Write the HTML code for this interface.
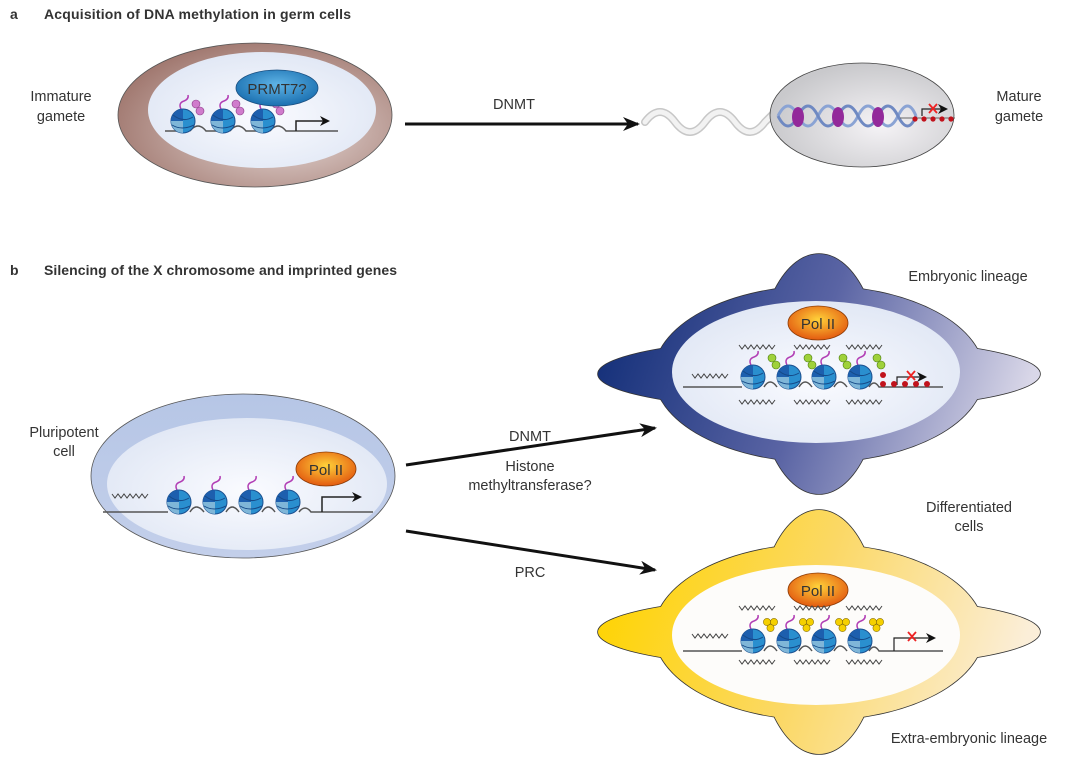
<!DOCTYPE html>
<html><head><meta charset="utf-8"><style>
html,body{margin:0;padding:0;background:#fff}
svg{display:block}
text{font-family:"Liberation Sans",sans-serif;fill:#333}
</style></head><body>
<svg width="1080" height="762" viewBox="0 0 1080 762" xmlns="http://www.w3.org/2000/svg">
<defs>
<radialGradient id="brown" cx="0.6" cy="0.6" r="0.7">
<stop offset="0" stop-color="#e8dcd9"/><stop offset="1" stop-color="#9a6f66"/></radialGradient>
<radialGradient id="grey" cx="0.6" cy="0.6" r="0.6">
<stop offset="0" stop-color="#f5f3f6"/><stop offset="1" stop-color="#c9c9cc"/></radialGradient>
<radialGradient id="inner" cx="0.5" cy="0.55" r="0.6">
<stop offset="0" stop-color="#fafbff"/><stop offset="1" stop-color="#dfe6f4"/></radialGradient>
<linearGradient id="pluri" x1="0" y1="0" x2="0" y2="1">
<stop offset="0" stop-color="#b6c6e6"/><stop offset="1" stop-color="#c3cfea"/></linearGradient>
<linearGradient id="navy" gradientUnits="userSpaceOnUse" x1="598" y1="330" x2="1000" y2="470">
<stop offset="0" stop-color="#122e78"/><stop offset="0.5" stop-color="#5a64a4"/><stop offset="1" stop-color="#d9d7e8"/></linearGradient>
<linearGradient id="yel" gradientUnits="userSpaceOnUse" x1="598" y1="590" x2="1000" y2="720">
<stop offset="0" stop-color="#ffd400"/><stop offset="0.5" stop-color="#fbd865"/><stop offset="1" stop-color="#fbeed8"/></linearGradient>
<radialGradient id="pol" cx="0.5" cy="0.4" r="0.6">
<stop offset="0" stop-color="#ffd23a"/><stop offset="1" stop-color="#e35a10"/></radialGradient>
<radialGradient id="prmt" cx="0.5" cy="0.4" r="0.6">
<stop offset="0" stop-color="#5fb4e6"/><stop offset="1" stop-color="#1a6fb0"/></radialGradient>
<g id="nuc">
<path d="M-2,-12 q-3,-6 3,-8 q5,-2 4,-6" stroke="#b23fb5" stroke-width="1.5" fill="none"/>
<circle r="12" fill="#2a8fcf" stroke="#1b4f8f" stroke-width="1"/>
<path d="M-12,0 A12,12 0 0 1 0,-12 L0,0Z" fill="#1d5fae"/>
<path d="M-12,0 A12,12 0 0 0 0,12 L0,0Z" fill="#7fb6d8"/>
<path d="M-10,-6 q10,8 20,2 M-11,4 q10,6 22,0" stroke="#164a88" stroke-width="1" fill="none"/>
</g>
<g id="sq"><path d="M0,0 l3,4 l3,-4 l3,4 l3,-4 l3,4 l3,-4 l3,4 l3,-4 l3,4 l3,-4 l3,4 l3,-4" stroke="#444" stroke-width="1" fill="none"/></g>
<marker id="ah" markerWidth="10" markerHeight="10" refX="8" refY="5" orient="auto" markerUnits="userSpaceOnUse"><path d="M0,0 L10,5 L0,10 L3,5Z" fill="#111"/></marker>
<marker id="big" markerWidth="18" markerHeight="14" refX="15" refY="7" orient="auto" markerUnits="userSpaceOnUse"><path d="M0,0 L17,7 L0,14 L5,7Z" fill="#111"/></marker>
</defs>

<text x="10" y="19" font-weight="bold" font-size="14" fill="#222">a</text>
<text x="44" y="19" font-weight="bold" font-size="14" textLength="307" fill="#222">Acquisition of DNA methylation in germ cells</text>
<text x="10" y="275" font-weight="bold" font-size="14" fill="#222">b</text>
<text x="44" y="275" font-weight="bold" font-size="14" textLength="353" fill="#222">Silencing of the X chromosome and imprinted genes</text>

<text x="61" y="101" font-size="14.5" text-anchor="middle">Immature</text>
<text x="61" y="121" font-size="14.5" text-anchor="middle">gamete</text>
<ellipse cx="255" cy="115" rx="137" ry="72" fill="url(#brown)" stroke="#555" stroke-width="0.8"/>
<ellipse cx="262" cy="110" rx="114" ry="58" fill="url(#inner)"/>
<path d="M165,131 H178 M190,131 q8,-10 16,0 H218 M230,131 q8,-10 16,0 H258 M270,131 q8,-10 16,0 H338" stroke="#555" stroke-width="1.5" fill="none"/>
<use href="#nuc" x="183" y="121"/><use href="#nuc" x="223" y="121"/><use href="#nuc" x="263" y="121"/>
<g fill="#d07ccc" stroke="#8a3d88" stroke-width="0.6">
<circle cx="196" cy="104" r="4"/><circle cx="200" cy="111" r="4"/>
<circle cx="236" cy="104" r="4"/><circle cx="240" cy="111" r="4"/>
<circle cx="276" cy="104" r="4"/><circle cx="280" cy="111" r="4"/></g>
<ellipse cx="277" cy="88" rx="41" ry="18" fill="url(#prmt)" stroke="#1a4f80" stroke-width="0.8"/>
<text x="277" y="94" font-size="15" text-anchor="middle" fill="#dff0fb">PRMT7?</text>
<path d="M296,131 V121 H328" stroke="#222" stroke-width="1.5" fill="none" marker-end="url(#ah)"/>

<line x1="405" y1="124" x2="638" y2="124" stroke="#111" stroke-width="3" marker-end="url(#big)"/>
<text x="514" y="109" font-size="14.5" text-anchor="middle">DNMT</text>

<path d="M645,122 q15,-20 30,0 t30,0 t30,0 t30,0 l8,-8" stroke="#999" stroke-width="8" fill="none" stroke-linecap="round" opacity="0.55"/>
<path d="M645,122 q15,-20 30,0 t30,0 t30,0 t30,0 l8,-8" stroke="#f2f2f2" stroke-width="5" fill="none" stroke-linecap="round"/>
<ellipse cx="862" cy="115" rx="92" ry="52" fill="url(#grey)" stroke="#444" stroke-width="0.8"/>
<path d="M778,116 q10,-20 20,0 t20,0 t20,0 t20,0 t20,0 t20,0 t18,0" stroke="#8aa3d4" stroke-width="3" fill="none"/>
<path d="M778,116 q10,20 20,0 t20,0 t20,0 t20,0 t20,0 t20,0 t18,0" stroke="#6f89c2" stroke-width="3" fill="none"/>
<g fill="#93299a"><ellipse cx="798" cy="117" rx="6" ry="10"/><ellipse cx="838" cy="117" rx="6" ry="10"/><ellipse cx="878" cy="117" rx="6" ry="10"/></g>
<path d="M900,118 H955" stroke="#666" stroke-width="1"/>
<path d="M922,116 V109 H946" stroke="#222" stroke-width="1.2" fill="none" marker-end="url(#ah)"/>
<path d="M929,104 l8,9 M937,104 l-8,9" stroke="#e22" stroke-width="1.8"/>
<g fill="#c1121c"><circle cx="915" cy="119" r="2.6"/><circle cx="924" cy="119" r="2.6"/><circle cx="933" cy="119" r="2.6"/><circle cx="942" cy="119" r="2.6"/><circle cx="951" cy="119" r="2.6"/></g>
<text x="1019" y="101" font-size="14.5" text-anchor="middle">Mature</text>
<text x="1019" y="121" font-size="14.5" text-anchor="middle">gamete</text>

<text x="64" y="437" font-size="14.5" text-anchor="middle">Pluripotent</text>
<text x="64" y="456" font-size="14.5" text-anchor="middle">cell</text>
<ellipse cx="243" cy="476" rx="152" ry="82" fill="url(#pluri)" stroke="#555" stroke-width="0.8"/>
<ellipse cx="247" cy="484" rx="140" ry="66" fill="url(#inner)"/>
<use href="#sq" x="112" y="494"/>
<path d="M103,512 H168 M190,512 q6,-10 14,0 M226,512 q6,-10 13,0 M262,512 q6,-10 13,0 M299,512 q6,-8 12,0 H373" stroke="#555" stroke-width="1.5" fill="none"/>
<use href="#nuc" x="179" y="502"/><use href="#nuc" x="215" y="502"/><use href="#nuc" x="251" y="502"/><use href="#nuc" x="288" y="502"/>
<ellipse cx="326" cy="469" rx="30" ry="17" fill="url(#pol)" stroke="#8a3a05" stroke-width="0.8"/>
<text x="326" y="475" font-size="15" text-anchor="middle" fill="#5a3a10">Pol II</text>
<path d="M322,512 V497 H360" stroke="#222" stroke-width="1.5" fill="none" marker-end="url(#ah)"/>

<line x1="406" y1="465" x2="655" y2="428" stroke="#111" stroke-width="3" marker-end="url(#big)"/>
<line x1="406" y1="531" x2="655" y2="570" stroke="#111" stroke-width="3" marker-end="url(#big)"/>
<text x="530" y="441" font-size="14.5" text-anchor="middle">DNMT</text>
<text x="530" y="471" font-size="14.5" text-anchor="middle">Histone</text>
<text x="530" y="490" font-size="14.5" text-anchor="middle">methyltransferase?</text>
<text x="530" y="577" font-size="14.5" text-anchor="middle">PRC</text>

<g stroke="#333" stroke-width="1.6" fill="none">
<ellipse cx="819" cy="374" rx="221" ry="36"/><ellipse cx="819" cy="374" rx="62" ry="120"/><ellipse cx="819" cy="374" rx="165" ry="88"/>
</g>
<g fill="url(#navy)">
<ellipse cx="819" cy="374" rx="221" ry="36"/><ellipse cx="819" cy="374" rx="62" ry="120"/><ellipse cx="819" cy="374" rx="165" ry="88"/>
</g>
<ellipse cx="816" cy="372" rx="144" ry="71" fill="url(#inner)"/>
<ellipse cx="818" cy="323" rx="30" ry="17" fill="url(#pol)" stroke="#8a3a05" stroke-width="0.8"/>
<text x="818" y="329" font-size="15" text-anchor="middle" fill="#5a3a10">Pol II</text>
<use href="#sq" x="739" y="345"/><use href="#sq" x="794" y="345"/><use href="#sq" x="846" y="345"/>
<use href="#sq" x="739" y="400"/><use href="#sq" x="794" y="400"/><use href="#sq" x="846" y="400"/>
<use href="#sq" x="692" y="374"/>
<path d="M683,387 H742 M764,387 q6,-10 13,0 M799,387 q6,-10 13,0 M834,387 q6,-10 13,0 M869,387 q5,-8 10,0 H943" stroke="#555" stroke-width="1.5" fill="none"/>
<use href="#nuc" x="753" y="377"/><use href="#nuc" x="789" y="377"/><use href="#nuc" x="824" y="377"/><use href="#nuc" x="860" y="377"/>
<g fill="#9fd13a" stroke="#4a7a10" stroke-width="0.6">
<circle cx="772" cy="358" r="4"/><circle cx="776" cy="365" r="4"/><circle cx="808" cy="358" r="4"/><circle cx="812" cy="365" r="4"/>
<circle cx="843" cy="358" r="4"/><circle cx="847" cy="365" r="4"/><circle cx="877" cy="358" r="4"/><circle cx="881" cy="365" r="4"/></g>
<path d="M897,385 V377 H925" stroke="#222" stroke-width="1.2" fill="none" marker-end="url(#ah)"/>
<path d="M907,371 l8,9 M915,371 l-8,9" stroke="#e22" stroke-width="1.8"/>
<g fill="#c1121c"><circle cx="883" cy="375" r="3"/><circle cx="883" cy="384" r="3"/><circle cx="894" cy="384" r="3"/><circle cx="905" cy="384" r="3"/><circle cx="916" cy="384" r="3"/><circle cx="927" cy="384" r="3"/></g>
<text x="968" y="281" font-size="14.5" text-anchor="middle">Embryonic lineage</text>

<text x="969" y="512" font-size="14.5" text-anchor="middle">Differentiated</text>
<text x="969" y="531" font-size="14.5" text-anchor="middle">cells</text>

<g stroke="#333" stroke-width="1.6" fill="none">
<ellipse cx="819" cy="632" rx="221" ry="36"/><ellipse cx="819" cy="632" rx="62" ry="122"/><ellipse cx="819" cy="632" rx="165" ry="88"/>
</g>
<g fill="url(#yel)">
<ellipse cx="819" cy="632" rx="221" ry="36"/><ellipse cx="819" cy="632" rx="62" ry="122"/><ellipse cx="819" cy="632" rx="165" ry="88"/>
</g>
<ellipse cx="816" cy="635" rx="144" ry="70" fill="#fdfcfa"/>
<ellipse cx="818" cy="590" rx="30" ry="17" fill="url(#pol)" stroke="#8a3a05" stroke-width="0.8"/>
<text x="818" y="596" font-size="15" text-anchor="middle" fill="#5a3a10">Pol II</text>
<use href="#sq" x="739" y="606"/><use href="#sq" x="794" y="606"/><use href="#sq" x="846" y="606"/>
<use href="#sq" x="739" y="660"/><use href="#sq" x="794" y="660"/><use href="#sq" x="846" y="660"/>
<use href="#sq" x="692" y="634"/>
<path d="M683,651 H742 M764,651 q6,-10 13,0 M799,651 q6,-10 13,0 M834,651 q6,-10 13,0 M869,651 q5,-8 10,0 H943" stroke="#555" stroke-width="1.5" fill="none"/>
<use href="#nuc" x="753" y="641"/><use href="#nuc" x="789" y="641"/><use href="#nuc" x="824" y="641"/><use href="#nuc" x="860" y="641"/>
<g fill="#f5d000" stroke="#8a7000" stroke-width="0.6">
<circle cx="767" cy="622" r="3.6"/><circle cx="774" cy="622" r="3.6"/><circle cx="770.5" cy="628" r="3.6"/>
<circle cx="803" cy="622" r="3.6"/><circle cx="810" cy="622" r="3.6"/><circle cx="806.5" cy="628" r="3.6"/>
<circle cx="839" cy="622" r="3.6"/><circle cx="846" cy="622" r="3.6"/><circle cx="842.5" cy="628" r="3.6"/>
<circle cx="873" cy="622" r="3.6"/><circle cx="880" cy="622" r="3.6"/><circle cx="876.5" cy="628" r="3.6"/></g>
<path d="M894,651 V638 H934" stroke="#222" stroke-width="1.2" fill="none" marker-end="url(#ah)"/>
<path d="M908,632 l8,9 M916,632 l-8,9" stroke="#e22" stroke-width="1.8"/>
<text x="969" y="743" font-size="14.5" text-anchor="middle">Extra-embryonic lineage</text>
</svg>
</body></html>
